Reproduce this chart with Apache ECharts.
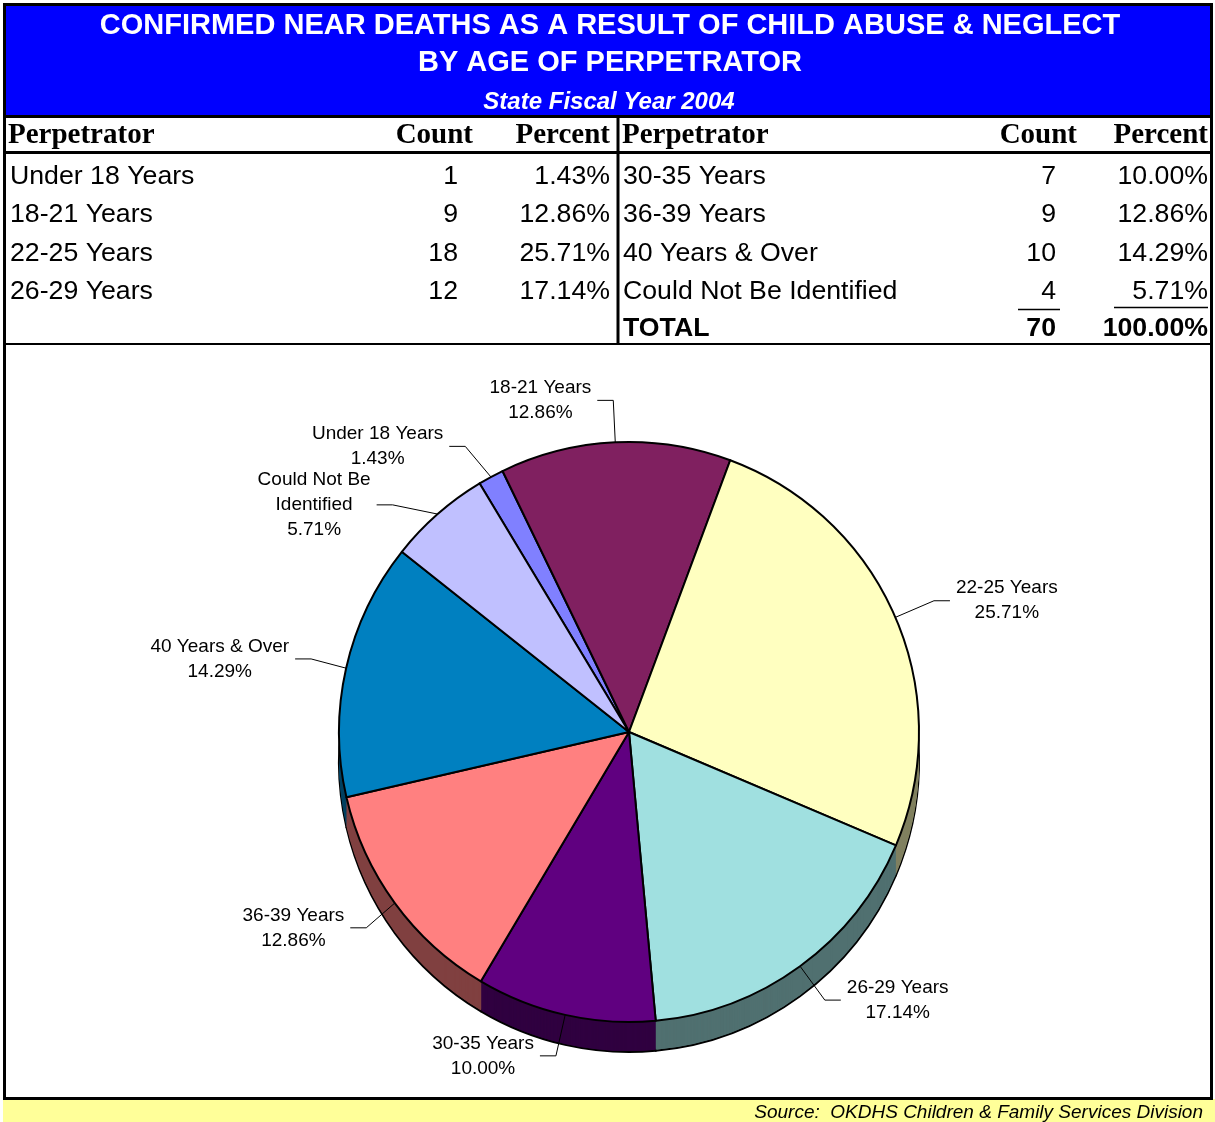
<!DOCTYPE html>
<html lang="en">
<head>
<meta charset="UTF-8">
<title>Confirmed Near Deaths by Age of Perpetrator</title>
<script src="https://cdn.jsdelivr.net/npm/echarts@6/dist/echarts.min.js"></script>
<style>
  html, body { margin: 0; padding: 0; background: #fff; }
  #main { width: 1215px; height: 1122px; }
</style>
</head>
<body>
<div id="main"></div>
<script type="text/javascript">
var categories = ['Under 18 Years', '18-21 Years', '22-25 Years', '26-29 Years',
                  '30-35 Years', '36-39 Years', '40 Years & Over', 'Could Not Be Identified'];
var counts = [1, 9, 18, 12, 7, 9, 10, 4];
var percents = ['1.43%', '12.86%', '25.71%', '17.14%', '10.00%', '12.86%', '14.29%', '5.71%'];
var pieLabels = ['Under 18 Years', '18-21 Years', '22-25 Years', '26-29 Years',
                 '30-35 Years', '36-39 Years', '40 Years & Over', 'Could Not Be\nIdentified'];
var totalCount = '70';
var totalPercent = '100.00%';
var titleLines = ['CONFIRMED NEAR DEATHS AS A RESULT OF CHILD ABUSE & NEGLECT', 'BY AGE OF PERPETRATOR'];
var subTitle = 'State Fiscal Year 2004';
var sourceText = 'Source:  OKDHS Children & Family Services Division';

var sliceColors = ['#8080FF', '#802060', '#FFFFC0', '#A0E0E0', '#600080', '#FF8080', '#0080C0', '#C0C0FF'];
var sideColors = ['#404080', '#401030', '#808060', '#507070', '#300040', '#804040', '#004060', '#606080'];

var sans = 'Liberation Sans, Arial, sans-serif';
var serif = 'Liberation Serif, Times New Roman, serif';

// ---- table / frame drawn with graphic elements
var g = [];
function txt(x, y, s, align, font, size, weight, color, style) {
    g.push({
        type: 'text', x: x, y: y, z: 50,
        style: {
            text: s, align: align, verticalAlign: 'middle',
            fontFamily: font, fontSize: size, fontWeight: weight || 'normal',
            fontStyle: style || 'normal', fill: color || '#000'
        }
    });
}
function line(x1, y1, x2, y2, w) {
    g.push({ type: 'line', z: 60, shape: { x1: x1, y1: y1, x2: x2, y2: y2 }, style: { stroke: '#000', lineWidth: w } });
}

g.push({ type: 'rect', z: 40, shape: { x: 5, y: 5, width: 1206, height: 111 }, style: { fill: '#0000FF' } });
g.push({ type: 'rect', z: 40, shape: { x: 3, y: 1099, width: 1212, height: 23 }, style: { fill: '#FFFF99' } });
txt(610, 26, titleLines[0], 'center', sans, 29, 'bold', '#fff');
txt(610, 63, titleLines[1], 'center', sans, 29, 'bold', '#fff');
txt(609, 102, subTitle, 'center', sans, 24, 'bold', '#fff', 'italic');
txt(1203, 1113, sourceText, 'right', sans, 19, 'normal', '#000', 'italic');

// frame
g.push({ type: 'rect', z: 60, shape: { x: 4.5, y: 4.5, width: 1207, height: 1094 },
         style: { fill: 'none', stroke: '#000', lineWidth: 3 } });
line(4, 116.5, 1212, 116.5, 3);
line(4, 152.5, 1212, 152.5, 3);
line(4, 344, 1212, 344, 2);
line(618, 116, 618, 344, 3);

// headers
[[8, 473, 610], [622, 1077, 1208]].forEach(function (c) {
    txt(c[0], 136, 'Perpetrator', 'left', serif, 29, 'bold');
    txt(c[1], 136, 'Count', 'right', serif, 29, 'bold');
    txt(c[2], 136, 'Percent', 'right', serif, 29, 'bold');
});
var rowY = [177, 215, 254, 292];
categories.forEach(function (name, i) {
    var left = i < 4;
    var y = rowY[i % 4];
    txt(left ? 10 : 623, y, name, 'left', sans, 26.7);
    txt(left ? 458 : 1056, y, String(counts[i]), 'right', sans, 26.7);
    txt(left ? 610 : 1208, y, percents[i], 'right', sans, 26.7);
});
line(1018, 309.5, 1060, 309.5, 1.5);
line(1114, 307.5, 1208, 307.5, 1.5);
txt(623, 329, 'TOTAL', 'left', sans, 26.7, 'bold');
txt(1056, 329, totalCount, 'right', sans, 26.7, 'bold');
txt(1208, 329, totalPercent, 'right', sans, 26.7, 'bold');

// ---- pie
var pieCenter = [629, 732];
var pieRadius = 290;
var startAngle = 121;
var depth = 30;

var pieData = categories.map(function (c, i) { return { name: c, value: counts[i] }; });

var series = [];
// stacked darker copies below the top pie make the 3D side
for (var d = depth; d >= 1; d--) {
    series.push({
        type: 'pie',
        silent: true,
        z: 2,
        center: [pieCenter[0], pieCenter[1] + d],
        radius: pieRadius,
        startAngle: startAngle,
        clockwise: true,
        animation: false,
        label: { show: false },
        labelLine: { show: false },
        emphasis: { disabled: true },
        itemStyle: {
            color: function (p) { return sideColors[p.dataIndex]; },
            borderColor: d === depth ? '#000' : 'transparent',
            borderWidth: d === depth ? 2 : 0
        },
        data: pieData
    });
}
series.push({
    type: 'pie',
    z: 3,
    center: pieCenter,
    radius: pieRadius,
    startAngle: startAngle,
    clockwise: true,
    animation: false,
    emphasis: { disabled: true },
    itemStyle: {
        color: function (p) { return sliceColors[p.dataIndex]; },
        borderColor: '#000',
        borderWidth: 2
    },
    label: {
        show: true,
        position: 'outside',
        distanceToLabelLine: 6,
        formatter: function (p) {
            return (pieLabels[p.dataIndex] + '\n' + percents[p.dataIndex])
                .split('\n').map(function (s) { return '{c|' + s + '}'; }).join('\n');
        },
        rich: {
            c: { fontFamily: sans, fontSize: 19, lineHeight: 25, color: '#000', align: 'center' }
        }
    },
    labelLine: {
        show: true,
        length: 42,
        length2: 16,
        lineStyle: { color: '#000', width: 1 }
    },
    data: pieData
});

var myChart = echarts.init(document.getElementById('main'), null, { renderer: 'canvas' });
myChart.setOption({
    backgroundColor: '#fff',
    animation: false,
    graphic: g,
    series: series
});
</script>
</body>
</html>
